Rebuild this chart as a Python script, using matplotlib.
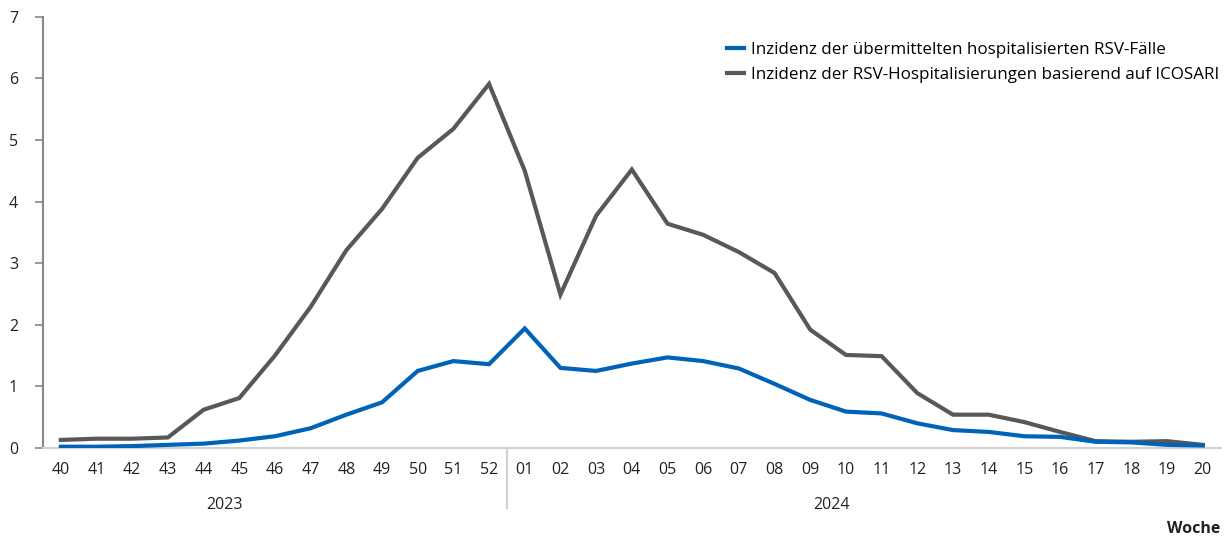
import matplotlib.pyplot as plt
import numpy as np

plt.rcParams['font.family'] = ['Open Sans', 'DejaVu Sans']

wochen = ['40', '41', '42', '43', '44', '45', '46', '47', '48', '49', '50', '51', '52',
          '01', '02', '03', '04', '05', '06', '07', '08', '09', '10', '11', '12', '13',
          '14', '15', '16', '17', '18', '19', '20']
jahre = ['2023', '2024']
n_2023 = 13

inzidenz_meldung = [0.02, 0.02, 0.03, 0.05, 0.07, 0.12, 0.19, 0.32, 0.54, 0.74, 1.25, 1.41, 1.36,
                    1.94, 1.30, 1.25, 1.37, 1.47, 1.41, 1.29, 1.04, 0.78, 0.59, 0.56, 0.40, 0.29,
                    0.26, 0.19, 0.18, 0.10, 0.09, 0.05, 0.04]
inzidenz_icosari = [0.13, 0.15, 0.15, 0.17, 0.62, 0.81, 1.50, 2.29, 3.21, 3.88, 4.71, 5.18, 5.91,
                    4.50, 2.49, 3.77, 4.52, 3.64, 3.46, 3.18, 2.84, 1.92, 1.51, 1.49, 0.89, 0.54,
                    0.54, 0.42, 0.26, 0.11, 0.10, 0.11, 0.05]

x = np.arange(len(wochen))

fig = plt.figure(figsize=(12.28, 5.41), dpi=100)
ax = fig.add_axes([0.035, 0.172, 0.959, 0.797])

ax.plot(x, inzidenz_meldung, color='#0063b9', lw=3.0, solid_joinstyle='miter',
        label='Inzidenz der übermittelten hospitalisierten RSV-Fälle', zorder=3)
ax.plot(x, inzidenz_icosari, color='#585858', lw=3.0, solid_joinstyle='miter',
        label='Inzidenz der RSV-Hospitalisierungen basierend auf ICOSARI', zorder=2)

ax.set_xlim(-0.5, len(wochen) - 0.5)
ax.set_ylim(0, 7)
ax.set_yticks(range(8))
ax.set_xticks(x)
ax.set_xticklabels(wochen)
ax.tick_params(axis='x', length=0, pad=10, labelsize=11.5, colors='#222222')
ax.tick_params(axis='y', length=6, width=1.2, color='#888888', pad=12, labelsize=11.5,
               labelcolor='#222222')

for side in ['top', 'right']:
    ax.spines[side].set_visible(False)
ax.spines['left'].set_color('#888888')
ax.spines['left'].set_linewidth(1.5)
ax.spines['bottom'].set_color('#d0d0d0')
ax.spines['bottom'].set_linewidth(1.5)

# Trennlinie zwischen den Jahren und Jahresbeschriftung
trenner = n_2023 - 0.5
ax.plot([trenner, trenner], [0, -0.98], color='#d0d0d0', lw=1.5, clip_on=False)
ax.text(4.6, -0.93, jahre[0], ha='center', va='center', fontsize=11.5, color='#222222')
ax.text(21.6, -0.93, jahre[1], ha='center', va='center', fontsize=11.5, color='#222222')

fig.text(0.994, 0.008, 'Woche', ha='right', va='bottom', fontsize=11.5, fontweight='bold',
         color='#222222')

ax.legend(loc='upper left', bbox_to_anchor=(0.581, 0.942), frameon=False, fontsize=12.25,
          handlelength=1.0, handletextpad=0.42, labelspacing=0.52, borderaxespad=0,
          borderpad=0)

fig.savefig('out.png', dpi=100)
